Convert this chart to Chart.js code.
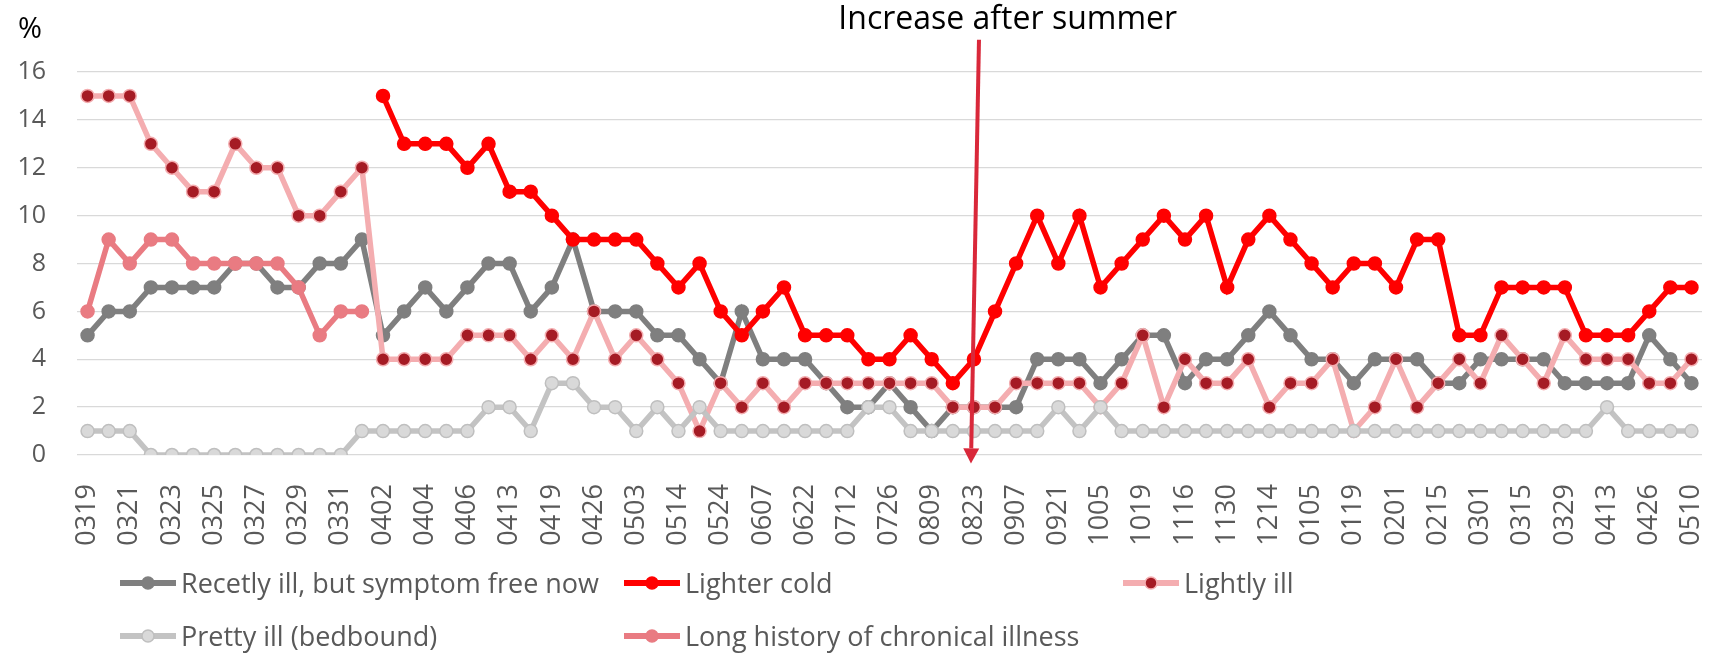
<!DOCTYPE html>
<html lang="en">
<head>
    <meta charset="UTF-8">
    <title>Illness survey</title>
    <script src="https://cdn.jsdelivr.net/npm/chart.js"></script>
    <style>
        body { margin: 0; background: #fff; }
        .wrap { position: relative; width: 1710px; height: 660px; }
        .legend {
            position: absolute; left: 120px; top: 556px;
            display: grid; grid-template-columns: 504px 499px 300px; grid-auto-rows: 53px;
            align-items: center;
            font-family: 'Open Sans', sans-serif; font-size: 27px; color: #595959;
        }
        .legend .item { display: flex; align-items: center; white-space: nowrap; }
        .legend svg { margin-right: 5px; }
    </style>
</head>
<body>
    <div class="wrap">
        <canvas id="chart" width="1710" height="660"></canvas>
        <div class="legend" id="legend"></div>
    </div>

    <script>
        // every second week label is printed on the axis
        const tickLabels = ['0319', '0321', '0323', '0325', '0327', '0329', '0331', '0402', '0404', '0406',
            '0413', '0419', '0426', '0503', '0514', '0524', '0607', '0622', '0712', '0726',
            '0809', '0823', '0907', '0921', '1005', '1019', '1116', '1130', '1214', '0105',
            '0119', '0201', '0215', '0301', '0315', '0329', '0413', '0426', '0510'];

        const recentlyIll = [5, 6, 6, 7, 7, 7, 7, 8, 8, 7, 7, 8, 8, 9,
            5, 6, 7, 6, 7, 8,
            8, 6, 7, 9, 6, 6, 6, 5, 5, 4,
            3, 6, 4, 4, 4, 3, 2, 2, 3, 2,
            1, 2, 2, 2, 2, 4, 4, 4, 3, 4,
            5, 5, 3, 4, 4, 5, 6, 5, 4, 4,
            3, 4, 4, 4, 3, 3, 4, 4, 4, 4,
            3, 3, 3, 3, 5, 4, 3];

        const lighterCold = [null, null, null, null, null, null, null, null, null, null, null, null, null, null,
            15, 13, 13, 13, 12, 13,
            11, 11, 10, 9, 9, 9, 9, 8, 7, 8,
            6, 5, 6, 7, 5, 5, 5, 4, 4, 5,
            4, 3, 4, 6, 8, 10, 8, 10, 7, 8,
            9, 10, 9, 10, 7, 9, 10, 9, 8, 7,
            8, 8, 7, 9, 9, 5, 5, 7, 7, 7,
            7, 5, 5, 5, 6, 7, 7];

        const lightlyIll = [15, 15, 15, 13, 12, 11, 11, 13, 12, 12, 10, 10, 11, 12,
            4, 4, 4, 4, 5, 5,
            5, 4, 5, 4, 6, 4, 5, 4, 3, 1,
            3, 2, 3, 2, 3, 3, 3, 3, 3, 3,
            3, 2, 2, 2, 3, 3, 3, 3, 2, 3,
            5, 2, 4, 3, 3, 4, 2, 3, 3, 4,
            1, 2, 4, 2, 3, 4, 3, 5, 4, 3,
            5, 4, 4, 4, 3, 3, 4];

        const prettyIll = [1, 1, 1, 0, 0, 0, 0, 0, 0, 0, 0, 0, 0, 1,
            1, 1, 1, 1, 1, 2,
            2, 1, 3, 3, 2, 2, 1, 2, 1, 2,
            1, 1, 1, 1, 1, 1, 1, 2, 2, 1,
            1, 1, 1, 1, 1, 1, 2, 1, 2, 1,
            1, 1, 1, 1, 1, 1, 1, 1, 1, 1,
            1, 1, 1, 1, 1, 1, 1, 1, 1, 1,
            1, 1, 2, 1, 1, 1, 1];

        // only asked in the first weeks
        const longHistory = [6, 9, 8, 9, 9, 8, 8, 8, 8, 8, 7, 5, 6, 6];

        // unlabelled weeks sit between the printed ones
        const categories = [];
        tickLabels.forEach((t, i) => {
            categories.push(t);
            if (i < tickLabels.length - 1) categories.push('');
        });

        const series = [
            { label: 'Recetly ill, but symptom free now', data: recentlyIll, line: '#7f7f7f', fill: '#7f7f7f', edge: '#7f7f7f', order: 5 },
            { label: 'Lighter cold', data: lighterCold, line: '#ff0000', fill: '#ff0000', edge: '#ff0000', order: 4 },
            { label: 'Lightly ill', data: lightlyIll, line: '#f4adb0', fill: '#a51b24', edge: '#f4adb0', order: 3 },
            { label: 'Pretty ill (bedbound)', data: prettyIll, line: '#c3c3c3', fill: '#d9d9d9', edge: '#bfbfbf', order: 2 },
            { label: 'Long history of chronical illness', data: longHistory, line: '#e97b82', fill: '#e97b82', edge: '#e97b82', order: 1 }
        ];

        const annotationPlugin = {
            id: 'summerNote',
            afterDraw(chart) {
                const { ctx, scales: { x, y } } = chart;
                ctx.save();
                // arrow pointing down at 0823
                const x1 = x.getPixelForValue(42.24), y1 = y.getPixelForValue(17.35);
                const x2 = x.getPixelForValue(41.86), y2 = y.getPixelForValue(-0.35);
                const ang = Math.atan2(y2 - y1, x2 - x1);
                const head = 15;
                ctx.strokeStyle = '#d9283a';
                ctx.fillStyle = '#d9283a';
                ctx.lineWidth = 4;
                ctx.beginPath();
                ctx.moveTo(x1, y1);
                ctx.lineTo(x2 - Math.cos(ang) * head, y2 - Math.sin(ang) * head);
                ctx.stroke();
                ctx.beginPath();
                ctx.moveTo(x2, y2);
                ctx.lineTo(x2 - Math.cos(ang) * head + Math.sin(ang) * 8, y2 - Math.sin(ang) * head - Math.cos(ang) * 8);
                ctx.lineTo(x2 - Math.cos(ang) * head - Math.sin(ang) * 8, y2 - Math.sin(ang) * head + Math.cos(ang) * 8);
                ctx.closePath();
                ctx.fill();

                ctx.fillStyle = '#000';
                ctx.textAlign = 'center';
                ctx.textBaseline = 'alphabetic';
                ctx.font = '32px "Open Sans"';
                ctx.fillText('Increase after summer', x.getPixelForValue(43.6), 29);
                ctx.font = '29px "Open Sans"';
                ctx.fillText('%', 30, 38);
                ctx.restore();
            }
        };

        new Chart(document.getElementById('chart'), {
            type: 'line',
            data: {
                labels: categories,
                datasets: series.map(s => ({
                    label: s.label,
                    data: s.data,
                    order: s.order,
                    borderColor: s.line,
                    borderWidth: 5.5,
                    pointBackgroundColor: s.fill,
                    pointBorderColor: s.edge,
                    pointBorderWidth: 1.5,
                    pointRadius: 6.5,
                    tension: 0
                }))
            },
            options: {
                responsive: false,
                animation: false,
                layout: { padding: { top: 72, right: 7, bottom: 80, left: 0 } },
                scales: {
                    x: {
                        offset: true,
                        grid: { display: false },
                        border: { display: false },
                        ticks: {
                            autoSkip: false,
                            minRotation: 90,
                            maxRotation: 90,
                            padding: 21,
                            color: '#595959',
                            font: { family: 'Open Sans', size: 27 },
                            callback: (v, i) => categories[i]
                        },
                        afterFit: s => {
                            s.height = 125;
                            s.paddingLeft = 0;
                            s.paddingRight = 0;
                        }
                    },
                    y: {
                        min: 0,
                        max: 16,
                        grid: { color: '#d9d9d9', lineWidth: 1.3, drawTicks: false },
                        border: { display: false },
                        ticks: {
                            stepSize: 2,
                            padding: 31,
                            color: '#595959',
                            font: { family: 'Open Sans', size: 25 }
                        },
                        afterFit: s => { s.width = 77; }
                    }
                },
                plugins: {
                    legend: { display: false },
                    tooltip: { enabled: false }
                }
            },
            plugins: [annotationPlugin]
        });

        // legend laid out in fixed columns like the original
        const legendEl = document.getElementById('legend');
        series.forEach(s => {
            const item = document.createElement('div');
            item.className = 'item';
            item.innerHTML = '<svg width="56" height="20">' +
                '<line x1="0" y1="10" x2="56" y2="10" stroke="' + s.line + '" stroke-width="6"/>' +
                '<circle cx="28" cy="10" r="6" fill="' + s.fill + '" stroke="' + s.edge + '" stroke-width="1.5"/></svg>' +
                '<span>' + s.label + '</span>';
            legendEl.appendChild(item);
        });
    </script>
</body>
</html>
